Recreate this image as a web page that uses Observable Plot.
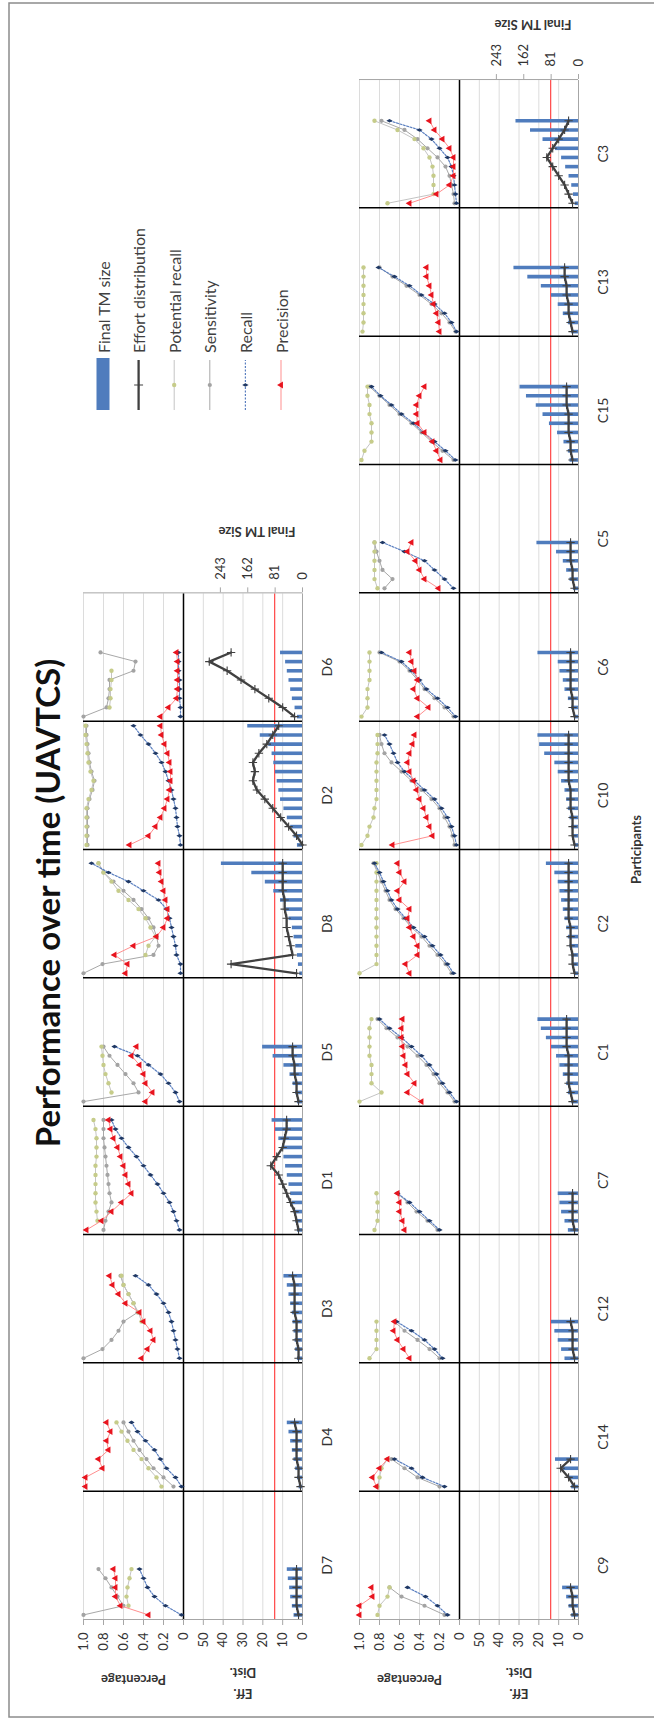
<!DOCTYPE html>
<html><head><meta charset="utf-8">
<script src="https://cdn.jsdelivr.net/npm/d3@7"></script>
<script src="https://cdn.jsdelivr.net/npm/@observablehq/plot@0.6"></script>
<style>
html,body{margin:0;padding:0;background:#fff;width:654px;height:1721px;overflow:hidden;}
#land{position:absolute;left:0;top:1721px;width:1721px;height:654px;transform-origin:0 0;transform:rotate(-90deg);font-family:Lato,sans-serif;}
#land svg{position:absolute;left:0;top:0;}
</style></head><body><div id="land"></div>
<script>
// ---------------- data ----------------
const topParticipants = ["D7","D4","D3","D1","D5","D8","D2","D6"];
const bottomParticipants = ["C9","C14","C12","C7","C1","C2","C10","C6","C5","C15","C13","C3"];
const pctTicks = [0, 0.2, 0.4, 0.6, 0.8, 1.0];
const pctGrid = [0.2, 0.4, 0.6, 0.8, 1.0];
const effTicks = [0, 10, 20, 30, 40, 50];
const effGrid = [10, 20, 30, 40, 50];
const effReference = [14];
const tmTicks = [0, 81, 162, 243];
const legendLabels = ["Final TM size","Effort distribution","Potential recall","Sensitivity","Recall","Precision"];

const precision = {
  D7:[0.35,0.63,0.68,0.68,0.68,0.70],
  D4:[0.98,0.98,0.81,0.85,0.75,0.77,0.73,0.77],
  D3:[0.42,0.36,0.30,0.33,0.40,0.44,0.58,0.65,0.71,0.74],
  D1:[0.97,0.82,0.72,0.62,0.52,0.55,0.58,0.60,0.63,0.66,0.70,0.73,0.75],
  D5:[0.38,0.31,0.38,0.40,0.44,0.52,0.47],
  D8:[0.58,0.56,0.69,0.50,0.27,0.20,0.16,0.16,0.18,0.20,0.22,0.24,0.25],
  D2:[0.54,0.35,0.28,0.23,0.19,0.16,0.14,0.13,0.13,0.14,0.16,0.19,0.22,0.23],
  D6:[0.23,0.15,0.07,0.06,0.06,0.06,0.06,0.07],
  C9:[1.00,1.00,0.87,0.88],
  C14:[0.83,0.87,0.80,0.72],
  C12:[0.50,0.56,0.62,0.66,0.65],
  C7:[0.55,0.57,0.60,0.60,0.62],
  C1:[0.38,0.52,0.45,0.52,0.54,0.56,0.57,0.58,0.58,0.57],
  C2:[0.50,0.54,0.42,0.42,0.46,0.50,0.52,0.50,0.60,0.62,0.55,0.60,0.62],
  C10:[0.67,0.27,0.30,0.33,0.36,0.40,0.43,0.46,0.50,0.52,0.50,0.47,0.45],
  C6:[0.42,0.31,0.42,0.46,0.42,0.45,0.48,0.50],
  C5:[0.21,0.35,0.40,0.44,0.52,0.48],
  C15:[0.19,0.23,0.27,0.35,0.42,0.43,0.43,0.40,0.35],
  C13:[0.20,0.21,0.23,0.26,0.28,0.30,0.33,0.33],
  C3:[0.50,0.23,0.10,0.06,0.06,0.06,0.10,0.17,0.25,0.30]
};
const recall = {
  D7:[0.02,0.18,0.29,0.36,0.40,0.44],
  D4:[0.02,0.08,0.17,0.23,0.29,0.38,0.46,0.52],
  D3:[0.04,0.06,0.08,0.10,0.12,0.15,0.20,0.27,0.35,0.48],
  D1:[0.04,0.07,0.10,0.14,0.20,0.26,0.33,0.40,0.47,0.55,0.62,0.68,0.72],
  D5:[0.04,0.08,0.15,0.23,0.35,0.46,0.69],
  D8:[0.03,0.03,0.07,0.08,0.10,0.12,0.14,0.17,0.25,0.40,0.55,0.75,0.92],
  D2:[0.03,0.04,0.06,0.07,0.08,0.10,0.12,0.15,0.18,0.22,0.28,0.35,0.43,0.50],
  D6:[0.03,0.03,0.04,0.04,0.04,0.05,0.05,0.05],
  C9:[0.12,0.22,0.34,0.52],
  C14:[0.15,0.37,0.48,0.65],
  C12:[0.17,0.25,0.35,0.48,0.63],
  C7:[0.20,0.30,0.40,0.50,0.62],
  C1:[0.03,0.10,0.17,0.23,0.30,0.38,0.48,0.58,0.70,0.80],
  C2:[0.06,0.12,0.19,0.27,0.35,0.46,0.54,0.62,0.68,0.72,0.76,0.80,0.85],
  C10:[0.03,0.05,0.08,0.12,0.18,0.25,0.35,0.45,0.55,0.62,0.66,0.70,0.75],
  C6:[0.04,0.12,0.22,0.33,0.40,0.48,0.58,0.78],
  C5:[0.06,0.15,0.25,0.35,0.55,0.77],
  C15:[0.04,0.14,0.25,0.36,0.46,0.58,0.68,0.79,0.88],
  C13:[0.03,0.08,0.15,0.25,0.38,0.50,0.65,0.81],
  C3:[0.03,0.04,0.05,0.06,0.08,0.12,0.20,0.28,0.40,0.70]
};
const sensitivity = {
  D7:[1.00,0.60,0.66,0.72,0.78,0.85],
  D4:[0.10,0.20,0.30,0.37,0.44,0.50,0.55,0.60],
  D3:[1.00,0.81,0.72,0.65,0.60,0.46,0.50,0.55,0.60,0.63],
  D1:[0.80,0.78,0.75,0.72,0.74,0.75,0.76,0.77,0.78,0.79,0.80,0.80,0.80],
  D5:[1.00,0.45,0.50,0.58,0.66,0.74,0.80],
  D8:[1.00,0.81,0.30,0.25,0.27,0.30,0.35,0.42,0.50,0.60,0.70,0.80,0.85],
  D2:[0.96,0.96,0.96,0.96,0.96,0.94,0.91,0.89,0.92,0.94,0.95,0.96,0.97,0.97],
  D6:[1.00,0.77,0.75,0.74,0.74,0.50,0.48,0.83],
  C9:[0.15,0.35,0.58,0.70],
  C14:[0.20,0.42,0.55,0.68],
  C12:[0.20,0.30,0.42,0.55,0.65],
  C7:[0.22,0.32,0.43,0.52,0.62],
  C1:[0.05,0.12,0.20,0.26,0.33,0.42,0.52,0.62,0.73,0.82],
  C2:[0.08,0.14,0.22,0.30,0.38,0.48,0.56,0.64,0.70,0.74,0.78,0.82,0.86],
  C10:[0.05,0.07,0.10,0.15,0.20,0.28,0.38,0.48,0.58,0.68,0.75,0.78,0.80],
  C6:[0.06,0.15,0.25,0.35,0.42,0.50,0.60,0.80],
  C5:[0.75,0.67,0.77,0.80,0.83,0.85],
  C15:[0.06,0.17,0.28,0.38,0.48,0.60,0.70,0.80,0.90],
  C13:[0.04,0.10,0.18,0.28,0.40,0.53,0.67,0.80],
  C3:[0.05,0.06,0.08,0.10,0.14,0.22,0.32,0.42,0.55,0.78]
};
const potentialRecall = {
  D7:[null,0.55,0.57,0.56,0.54,0.52],
  D4:[0.22,0.27,0.35,0.42,0.50,0.56,0.62,0.67],
  D3:[null,null,null,null,0.42,0.45,0.50,0.55,0.60,0.62],
  D1:[null,0.86,0.87,0.88,0.88,0.88,0.88,0.88,0.87,0.87,0.87,0.88,0.90],
  D5:[null,0.72,0.75,0.78,0.80,0.81,0.82],
  D8:[null,null,0.38,0.35,0.28,0.33,0.38,0.45,0.55,0.65,0.72,0.80,0.85],
  D2:[0.97,0.97,0.97,0.97,0.97,0.95,0.92,0.90,0.93,0.95,0.96,0.97,0.98,0.98],
  D6:[null,0.74,0.73,0.73,0.72,0.72,null,null],
  C9:[0.82,0.80,0.72,0.70],
  C14:[0.82,0.80,0.78,0.72],
  C12:[0.90,0.83,0.83,0.83,0.83],
  C7:[0.85,0.82,0.82,0.82,0.83],
  C1:[1.00,0.78,0.88,0.88,0.88,0.90,0.90,0.90,0.90,0.88],
  C2:[1.00,0.83,0.83,0.83,0.83,0.83,0.83,0.83,0.83,0.83,0.83,0.83,0.83],
  C10:[0.98,0.92,0.90,0.86,0.85,0.83,0.83,0.83,0.83,0.83,0.82,0.82,0.82],
  C6:[0.98,0.92,0.92,0.92,0.90,0.90,0.90,0.90],
  C5:[0.82,0.85,0.85,0.85,0.85,0.85],
  C15:[0.98,0.95,0.88,0.88,0.88,0.90,0.90,0.92,0.92],
  C13:[0.97,0.96,0.96,0.96,0.96,0.96,0.96,0.96],
  C3:[0.72,0.26,0.26,0.26,0.27,0.30,0.36,0.45,0.62,0.85]
};
const effortDistribution = {
  D7:[2,3,3,3,3,3],
  D4:[1,2,2,3,3,3,3,4],
  D3:[2,2,3,3,3,4,4,4,4,5],
  D1:[2,3,4,6,8,10,12,16,13,10,9,8,8],
  D5:[2,3,3,4,4,5,5],
  D8:[3,36,5,6,7,8,8,9,9,10,10,10,10],
  D2:[0,3,7,11,15,19,23,25,24,25,22,18,15,12],
  D6:[4,10,17,24,31,38,47,36],
  C9:[2,3,3,4],
  C14:[2,5,9,4],
  C12:[2,3,3,3,4],
  C7:[2,3,3,3,3],
  C1:[3,4,5,5,5,5,6,6,6,6],
  C2:[2,3,3,4,4,4,5,5,5,5,5,5,5],
  C10:[2,3,3,3,4,4,4,5,5,5,5,5,5],
  C6:[2,3,3,4,4,4,4,4],
  C5:[2,3,3,4,4,4],
  C15:[3,4,4,5,5,5,6,6,6],
  C13:[3,4,5,5,6,6,7,7],
  C3:[3,5,7,10,13,16,13,10,7,5]
};
const finalTmSize = {
  D7:[25,30,35,38,42,45],
  D4:[10,15,20,25,30,35,40,45],
  D3:[15,20,22,25,28,30,35,40,45,55],
  D1:[15,20,25,30,35,40,45,50,55,60,70,80,90],
  D5:[15,20,28,37,55,87,118],
  D8:[8,12,15,20,25,30,40,50,65,85,110,150,240],
  D2:[15,25,35,45,55,65,70,75,80,85,90,100,125,162],
  D6:[15,22,30,35,40,45,50,65],
  C9:[20,28,35,47],
  C14:[20,30,45,68],
  C12:[40,50,60,70,80],
  C7:[30,40,50,55,60],
  C1:[20,30,35,45,55,65,80,95,110,120],
  C2:[10,15,20,25,30,35,40,45,50,55,60,70,95],
  C10:[10,15,20,25,30,35,40,50,60,70,100,115,120],
  C6:[10,20,30,40,45,55,60,120],
  C5:[15,25,35,45,65,123],
  C15:[25,30,43,62,86,105,125,154,173],
  C13:[20,30,45,60,80,110,150,191],
  C3:[10,15,20,28,38,50,68,105,142,185]
};

// ---------------- layout ----------------
const W = 1721, H = 654;
const rowLeft = 101, panelW = 128.33, slots = 14;
const COL = {
  tm:"#4f7cbd", effort:"#404040", pot:"#c6cc8a", potLine:"#c4c4c4",
  sens:"#a3a3a3", sensLine:"#a8a8a8", rec:"#1f3864", recLine:"#5a7fc0",
  prec:"#e8141e", precLine:"#ff8f8f", grid:"#dcdcdc", axis:"#a6a6a6", text:"#333"
};
const style = {background:"transparent", overflow:"visible", fontFamily:"Lato, sans-serif", fontSize:"13px", color:COL.text};
const num = v => (v == null ? NaN : v);

function rowData(names) {
  return names.flatMap((p, k) => precision[p].map((_, i) => ({
    p, gx: k * slots + i,
    prec: num(precision[p][i]), rec: num(recall[p][i]), sens: num(sensitivity[p][i]),
    pot: num(potentialRecall[p][i]), eff: num(effortDistribution[p][i]), tm: num(finalTmSize[p][i])
  })));
}

function makeRow(names, geo) {
  const n = names.length;
  const data = rowData(names);
  const xDomain = [-0.5, n * slots - 0.5];
  const separators = d3.range(1, n).map(k => k * slots - 0.5);
  const centers = names.map((_, k) => k * slots + (slots - 1) / 2);
  const mr = W - (rowLeft + n * panelW);
  const common = {width: W, height: H, marginLeft: rowLeft, marginRight: mr, style};
  const xs = {domain: xDomain, axis: null};

  const pct = Plot.plot({...common, marginTop: geo.top, marginBottom: H - geo.split,
    x: xs, y: {domain: [0, 1], axis: null},
    marks: [
      Plot.ruleY(pctGrid, {stroke: COL.grid}),
      Plot.ruleX(separators, {stroke: "#000", strokeWidth: 1.5}),
      Plot.ruleX([xDomain[0]], {stroke: COL.axis}),
      Plot.ruleY([0], {stroke: "#000", strokeWidth: 1.5}),
      Plot.axisY({ticks: pctTicks, tickFormat: d => d === 0 ? "0" : d.toFixed(1), tickSize: 5, tickPadding: 8, stroke: COL.axis, fill: COL.text, fontSize: 13, label: null}),
      Plot.text(["Percentage"], {text: d => d, frameAnchor: "left", rotate: -90, dx: -60, textAnchor: "middle", lineAnchor: "middle", fontWeight: "bold", fontSize: 13, fill: COL.text, letterSpacing: 1}),
      Plot.line(data, {x: "gx", y: "sens", z: "p", stroke: COL.sensLine, strokeWidth: 1}),
      Plot.dot(data, {x: "gx", y: "sens", r: 2.1, fill: COL.sens}),
      Plot.line(data, {x: "gx", y: "pot", z: "p", stroke: COL.potLine, strokeWidth: 1}),
      Plot.dot(data, {x: "gx", y: "pot", r: 2.2, fill: COL.pot}),
      Plot.line(data, {x: "gx", y: "rec", z: "p", stroke: COL.recLine, strokeWidth: 1.2, strokeDasharray: "2,1.5"}),
      Plot.dot(data, {x: "gx", y: "rec", symbol: "diamond", r: 1.9, fill: COL.rec}),
      Plot.line(data, {x: "gx", y: "prec", z: "p", stroke: COL.precLine, strokeWidth: 1}),
      Plot.dot(data, {x: "gx", y: "prec", symbol: "triangle", r: 2.5, fill: COL.prec})
    ]});

  const effBase = Plot.plot({...common, marginTop: geo.split, marginBottom: H - geo.base,
    x: xs, y: {domain: [0, 60], axis: null},
    marks: [
      Plot.ruleY(effGrid, {stroke: COL.grid}),
      Plot.ruleY(effReference, {stroke: "#ff2020", strokeWidth: 1}),
      Plot.ruleX(separators, {stroke: "#000", strokeWidth: 1.5}),
      Plot.ruleX([xDomain[0]], {stroke: COL.axis}),
      Plot.ruleY([0], {stroke: COL.axis}),
      Plot.axisY({ticks: effTicks, tickSize: 5, tickPadding: 8, stroke: COL.axis, fill: COL.text, fontSize: 13, label: null}),
      Plot.text(["Eff.\nDist."], {text: d => d, frameAnchor: "left", rotate: -90, dx: -66, textAnchor: "middle", lineAnchor: "middle", lineHeight: 1.6, fontWeight: "bold", fontSize: 13, fill: COL.text}),
      Plot.axisX({ticks: centers, tickFormat: d => names[Math.round((d - (slots - 1) / 2) / slots)], tickSize: 0, tickPadding: 20, dx: -10, fontSize: 14, fill: COL.text, label: null}),
      ...(geo.participants ? [Plot.text(["Participants"], {text: d => d, frameAnchor: "bottom", dy: 58, textAnchor: "middle", lineAnchor: "middle", fontWeight: "bold", fontSize: 13, fill: COL.text})] : [])
    ]});

  const tm = Plot.plot({...common, marginTop: geo.top, marginBottom: H - geo.base,
    x: xs, y: {domain: [0, 648], axis: null},
    marks: [
      Plot.ruleX(data, {x: "gx", y1: 0, y2: "tm", stroke: COL.tm, strokeWidth: 3.6}),
      Plot.ruleX([xDomain[1]], {stroke: COL.axis}),
      Plot.axisY({anchor: "right", ticks: tmTicks, tickSize: 5, tickPadding: 8, stroke: COL.axis, fill: COL.text, fontSize: 13, label: null}),
      Plot.text(["Final TM Size"], {text: d => d, frameAnchor: "right", rotate: -90, dx: geo.tmLabelDx, dy: 64, textAnchor: "middle", lineAnchor: "middle", fontWeight: "bold", fontSize: 13, fill: COL.text})
    ]});

  const effLine = Plot.plot({...common, marginTop: geo.split, marginBottom: H - geo.base,
    x: xs, y: {domain: [0, 60], axis: null},
    marks: [
      Plot.line(data, {x: "gx", y: "eff", z: "p", stroke: COL.effort, strokeWidth: 2.3}),
      Plot.dot(data, {x: "gx", y: "eff", symbol: "plus", r: 2.8, stroke: COL.effort, strokeWidth: 1.1, fill: "none"})
    ]});

  return [pct, effBase, tm, effLine];
}

// ---------------- chrome (border, title, legend) ----------------
const land = document.getElementById("land");
const chrome = d3.create("svg").attr("width", W).attr("height", H).style("overflow", "visible");
chrome.append("rect").attr("x", 4).attr("y", 9).attr("width", 1714).attr("height", 700)
  .attr("fill", "none").attr("stroke", "#8c8c8c").attr("stroke-width", 1.5);
chrome.append("text").attr("x", 818).attr("y", 47).attr("text-anchor", "middle").attr("dominant-baseline", "central")
  .attr("font-family", "Lato, sans-serif").attr("font-weight", "bold").attr("font-size", 33).attr("fill", "#111")
  .text("Performance over time (UAVTCS)");
const lg = chrome.append("g").attr("font-family", "Lato, sans-serif");
legendLabels.forEach((label, j) => {
  const y = 103 + j * 35.6, x0 = 1311, x1 = 1361, xm = (x0 + x1) / 2;
  const g = lg.append("g");
  if (j === 0) g.append("rect").attr("x", x0).attr("y", y - 6.5).attr("width", x1 - x0 + 2).attr("height", 13).attr("fill", COL.tm);
  else {
    const st = [null, [COL.effort, 2.3, null], [COL.potLine, 1, null], [COL.sensLine, 1, null], [COL.recLine, 1.2, "2,1.5"], [COL.precLine, 1, null]][j];
    g.append("line").attr("x1", x0).attr("x2", x1).attr("y1", y).attr("y2", y).attr("stroke", st[0]).attr("stroke-width", st[1]).attr("stroke-dasharray", st[2]);
    const sym = [null, d3.symbolPlus, d3.symbolCircle, d3.symbolCircle, d3.symbolDiamond, d3.symbolTriangle][j];
    const sizes = [0, 28, 15, 14, 12, 20];
    const path = g.append("path").attr("transform", `translate(${xm},${y})`).attr("d", d3.symbol(sym, sizes[j])());
    if (j === 1) path.attr("fill", "none").attr("stroke", COL.effort).attr("stroke-width", 1.1);
    else path.attr("fill", [null, null, COL.pot, COL.sens, COL.rec, COL.prec][j]);
  }
  g.append("text").attr("x", 1368).attr("y", y).attr("dominant-baseline", "central").attr("font-size", 16).attr("fill", "#404040").text(label);
});
land.appendChild(chrome.node());

const topRow = makeRow(topParticipants, {top: 83, split: 183, base: 302, tmLabelDx: 62, participants: false});
const bottomRow = makeRow(bottomParticipants, {top: 359, split: 459, base: 578, tmLabelDx: 55, participants: true});
[...topRow, ...bottomRow].forEach(svg => land.appendChild(svg));
</script></body></html>
